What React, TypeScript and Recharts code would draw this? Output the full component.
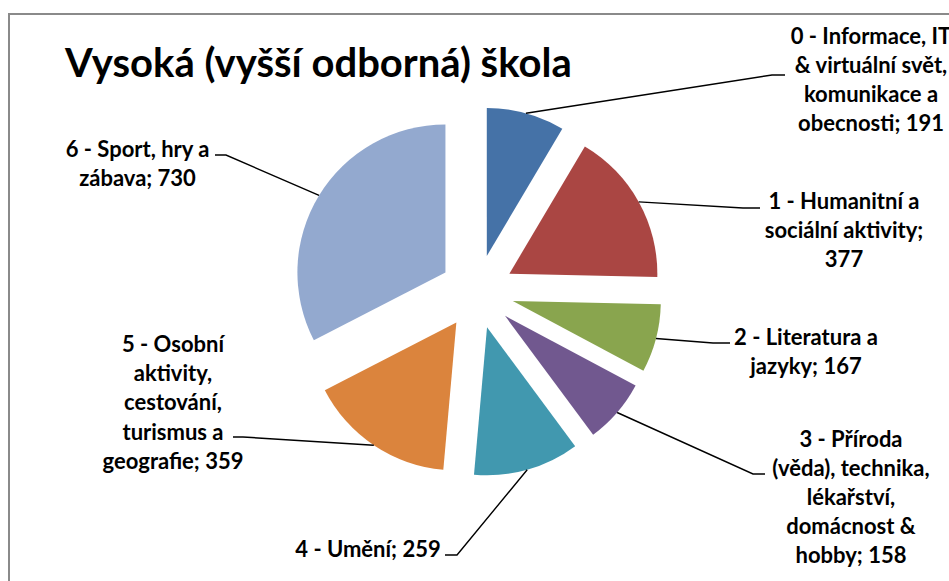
import { PieChart, Pie, Cell } from "recharts"

const CATEGORIES = [
  "0 - Informace, IT & virtuální svět, komunikace a obecnosti",
  "1 - Humanitní a sociální aktivity",
  "2 - Literatura a jazyky",
  "3 - Příroda (věda), technika, lékařství, domácnost & hobby",
  "4 - Umění",
  "5 - Osobní aktivity, cestování, turismus a geografie",
  "6 - Sport, hry a zábava",
]

const VALUES = [191, 377, 167, 158, 259, 359, 730]

// how many words go on each line of a label (Excel wraps them like this)
const WORDS_PER_LINE = [
  [4, 3, 2, 2],
  [4, 2, 1],
  [4, 2],
  [3, 2, 1, 2, 2],
  [4],
  [3, 1, 1, 2, 2],
  [5, 2],
]

const TITLE = "Vysoká (vyšší odborná) škola"

const COLORS = ["#4572A7", "#AA4643", "#89A54E", "#71588F", "#4198AF", "#DB843D", "#93A9CF"]

// label placement: text centre, first line, leader elbow and the short tick end
const LABEL_POS = [
  { x: 871, y: 35, elbowX: 772, elbowY: 75, tickX: 785 },
  { x: 844, y: 200, elbowX: 743, elbowY: 208, tickX: 760 },
  { x: 806, y: 336.5, elbowX: 713, elbowY: 343, tickX: 730 },
  { x: 851, y: 438, elbowX: 753, elbowY: 474, tickX: 765 },
  { x: 368, y: 548.5, elbowX: 457, elbowY: 555, tickX: 445 },
  { x: 173, y: 343.5, elbowX: 243, elbowY: 437, tickX: 233 },
  { x: 137.5, y: 148.5, elbowX: 226, elbowY: 155, tickX: 215 },
]

const WIDTH = 949
const HEIGHT = 581
const EXPLODE = 37
const LINE_H = 29.2
const FONT = "Lato, 'Open Sans', sans-serif"
const RADIAN = Math.PI / 180

const data = CATEGORIES.map((name, i) => ({ name, value: VALUES[i] }))
const total = VALUES.reduce((s, v) => s + v, 0)

// mid angle of every slice, same convention as the Pie (start 90, clockwise)
const midAngles = (() => {
  let cum = 0
  return VALUES.map((v) => {
    const start = 90 - (cum / total) * 360
    cum += v
    const end = 90 - (cum / total) * 360
    return (start + end) / 2
  })
})()

function wrapLabel(index: number) {
  const words = `${CATEGORIES[index]}; ${VALUES[index]}`.split(" ")
  const lines: string[] = []
  let pos = 0
  for (const n of WORDS_PER_LINE[index]) {
    lines.push(words.slice(pos, pos + n).join(" "))
    pos += n
  }
  return lines
}

const renderLabel = (props: any) => {
  const { cx, cy, midAngle, outerRadius, index } = props
  const r = outerRadius + EXPLODE
  const sx = cx + r * Math.cos(-midAngle * RADIAN)
  const sy = cy + r * Math.sin(-midAngle * RADIAN)
  const p = LABEL_POS[index]
  const lines = wrapLabel(index)
  return (
    <g key={`label-${index}`}>
      <polyline
        points={`${sx},${sy} ${p.elbowX},${p.elbowY} ${p.tickX},${p.elbowY}`}
        fill="none"
        stroke="#000"
        strokeWidth={1.4}
      />
      <text
        x={p.x}
        y={p.y}
        textAnchor="middle"
        fontFamily={FONT}
        fontWeight={700}
        fontSize={22}
        fill="#000"
      >
        {lines.map((line, i) => (
          <tspan key={i} x={p.x} y={p.y + i * LINE_H} dominantBaseline="central">
            {line}
          </tspan>
        ))}
      </text>
    </g>
  )
}

export default function App() {
  return (
    <div style={{ position: "absolute", left: 0, top: 0, width: WIDTH, height: HEIGHT, background: "#fff" }}>
      <svg
        width={WIDTH}
        height={HEIGHT}
        style={{ position: "absolute", left: 0, top: 0, pointerEvents: "none" }}
      >
        <polyline points={`9,${HEIGHT} 9,14 ${WIDTH},14`} fill="none" stroke="#8a8a8a" strokeWidth={2} />
        <text x={65} y={77} fontFamily={FONT} fontWeight={700} fontSize={40} fill="#000">
          {TITLE}
        </text>
      </svg>
      <div style={{ position: "absolute", left: 0, top: 0 }}>
        <PieChart width={WIDTH} height={HEIGHT} margin={{ top: 0, right: 0, bottom: 0, left: 0 }}>
          <Pie
            data={data}
            dataKey="value"
            nameKey="name"
            cx={477}
            cy={291.7}
            innerRadius={0}
            outerRadius={148}
            startAngle={90}
            endAngle={-270}
            stroke="none"
            isAnimationActive={false}
            label={renderLabel}
            labelLine={false}
          >
            {data.map((entry, index) => {
              const dx = EXPLODE * Math.cos(-midAngles[index] * RADIAN)
              const dy = EXPLODE * Math.sin(-midAngles[index] * RADIAN)
              return (
                <Cell
                  key={`cell-${entry.name}`}
                  fill={COLORS[index]}
                  transform={`translate(${dx.toFixed(2)},${dy.toFixed(2)})`}
                />
              )
            })}
          </Pie>
        </PieChart>
      </div>
    </div>
  )
}
